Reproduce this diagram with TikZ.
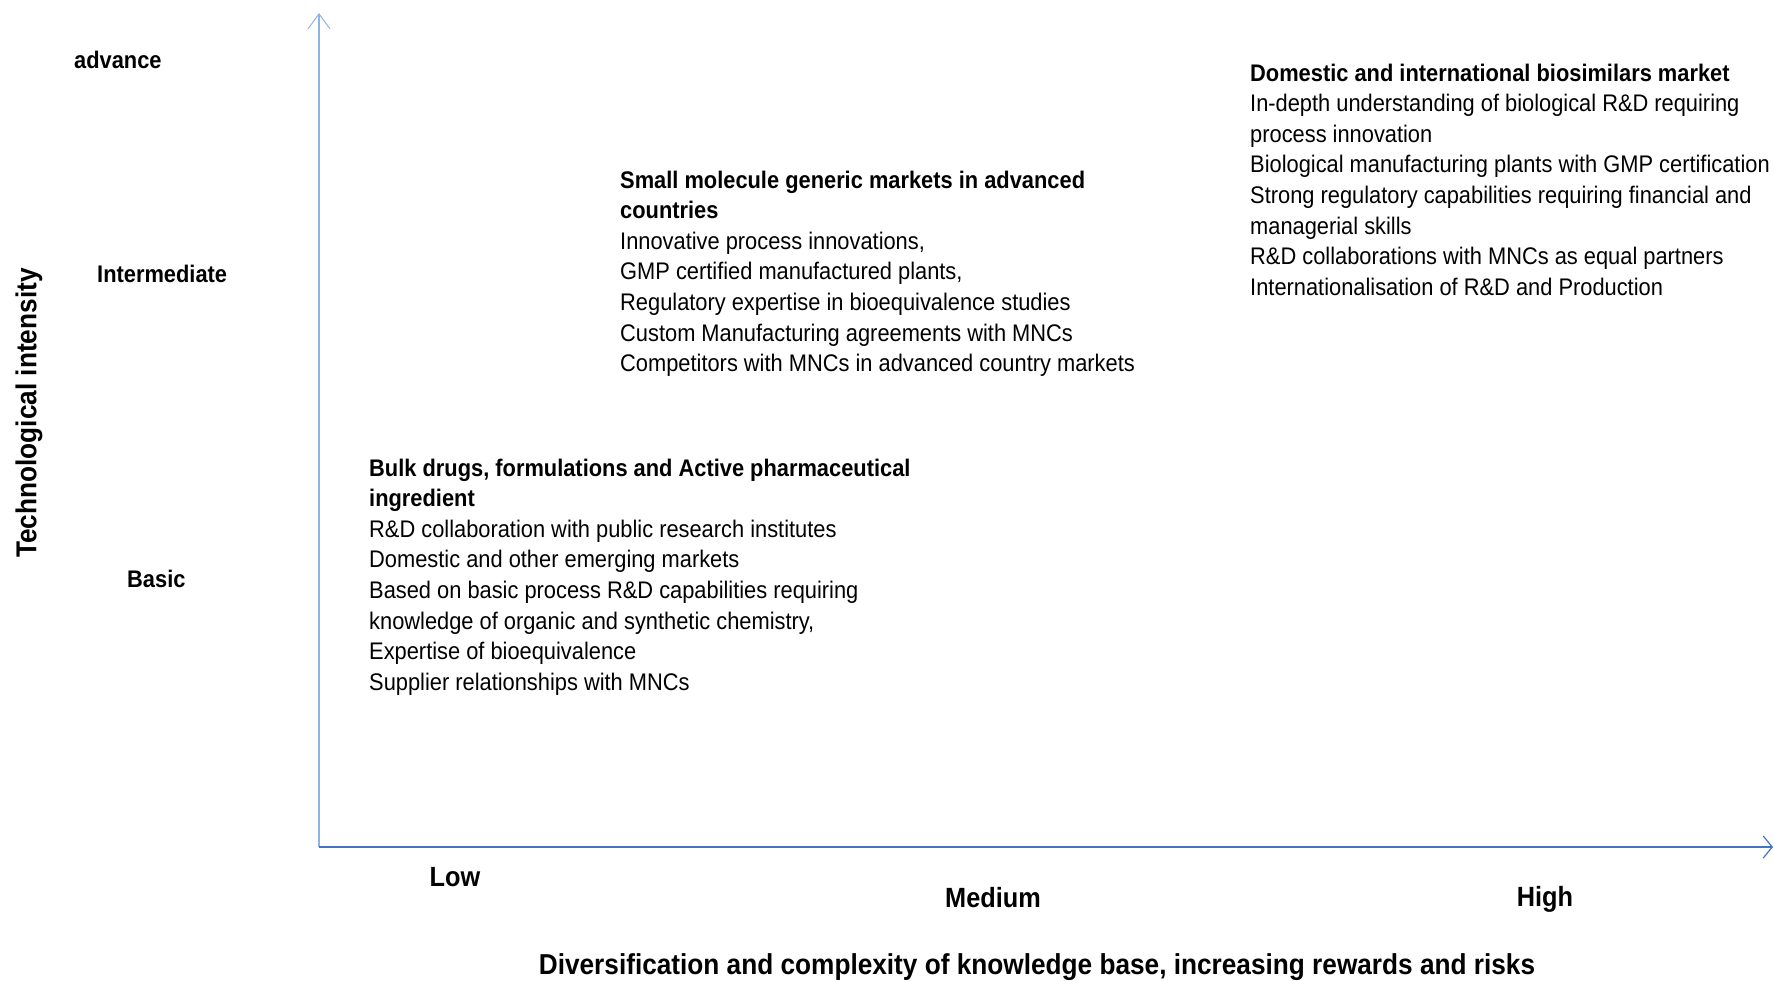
\documentclass[tikz,border=0pt]{standalone}
\usepackage{fontspec}
\setmainfont[FakeStretch=0.91]{Liberation Sans}
\usetikzlibrary{arrows.meta}
\definecolor{yaxis}{HTML}{8EB4E3}
\definecolor{xaxis}{HTML}{4472C4}
\tikzset{
  body/.style={anchor=north west, align=left, inner sep=0pt, font=\fontsize{24}{30.6}\selectfont},
  lvl/.style={anchor=west, inner sep=0pt, font=\fontsize{24}{28}\selectfont\bfseries},
  xlbl/.style={anchor=center, inner sep=0pt, font=\fontsize{27.8}{32}\selectfont\bfseries},
  axtitle/.style={anchor=center, inner sep=0pt, font=\fontsize{28.8}{32}\selectfont\bfseries},
}
\begin{document}
\begin{tikzpicture}[x=1pt,y=1pt]
\useasboundingbox (0,0) rectangle (1774,-981);
\coordinate (O) at (319,-847);
\coordinate (Ytop) at (319,-13);
\coordinate (Xend) at (1773,-847);
\draw[yaxis, line width=1.2pt, -{Straight Barb[length=15pt,width=22pt,line width=1pt]}] (O) -- (Ytop);
\draw[xaxis, line width=2pt, -{Straight Barb[length=9pt,width=22pt,line width=1.2pt]}] (O) -- (Xend);

\node[lvl] (adv) at (74,-60) {advance};
\node[lvl] (int) at (97,-274) {Intermediate};
\node[lvl] (bas) at (127,-579) {Basic};
\node[axtitle, rotate=90] (ti) at (29,-413) {Technological intensity};

\node[xlbl] (low) at (455,-877) {Low};
\node[xlbl] (med) at (993,-898) {Medium};
\node[xlbl] (high) at (1545,-899) {High};
\node[axtitle] (div) at (1037,-967) {Diversification and complexity of knowledge base, increasing rewards and risks};

\node[body] (b1) at (369,-458.5) {\textbf{Bulk drugs, formulations and Active pharmaceutical}\\
\textbf{ingredient}\\
R\&D collaboration with public research institutes\\
Domestic and other emerging markets\\
Based on basic process R\&D capabilities requiring\\
knowledge of organic and synthetic chemistry,\\
Expertise of bioequivalence\\
Supplier relationships with MNCs};

\node[body] (b2) at (620,-170.5) {\textbf{Small molecule generic markets in advanced}\\
\textbf{countries}\\
Innovative process innovations,\\
GMP certified manufactured plants,\\
Regulatory expertise in bioequivalence studies\\
Custom Manufacturing agreements with MNCs\\
Competitors with MNCs in advanced country markets};

\node[body] (b3) at (1250,-63.5) {\textbf{Domestic and international biosimilars market}\\
In-depth understanding of biological R\&D requiring\\
process innovation\\
Biological manufacturing plants with GMP certification\\
Strong regulatory capabilities requiring financial and\\
managerial skills\\
R\&D collaborations with MNCs as equal partners\\
Internationalisation of R\&D and Production};
\end{tikzpicture}
\end{document}
